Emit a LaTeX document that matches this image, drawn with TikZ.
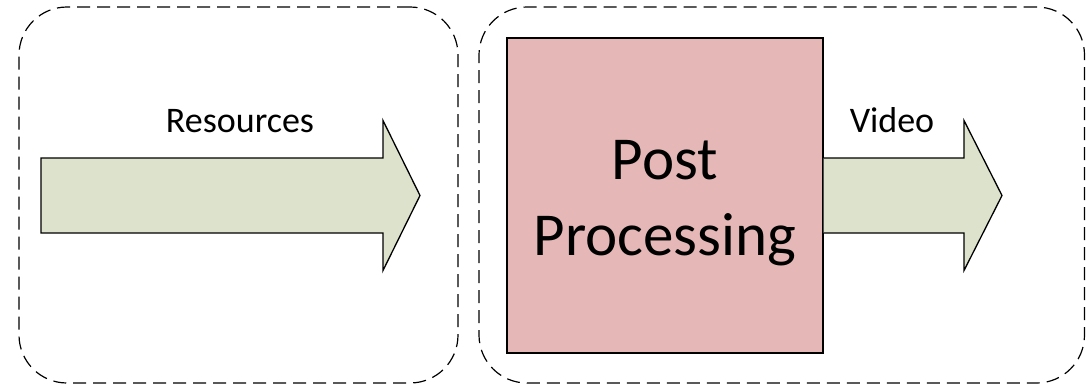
\documentclass[tikz,border=0pt]{standalone}
\usepackage{fontspec}
\setmainfont{Carlito}
\usetikzlibrary{positioning, calc}

\definecolor{flowgreen}{RGB}{221,226,204}
\definecolor{procpink}{RGB}{229,184,183}

\begin{document}
\begin{tikzpicture}[x=1pt, y=-1pt,
    stage/.style={draw, line width=1.2pt, dash pattern=on 13pt off 7pt,
        rounded corners=48pt, inner sep=0pt},
    process/.style={draw, line width=1.3pt, fill=procpink, inner sep=0pt,
        minimum width=316pt, minimum height=315pt},
    proclabel/.style={align=center, inner sep=0pt, font=\fontsize{61}{76}\selectfont},
    flow/.style={draw, line width=1.3pt, fill=flowgreen, line join=miter},
    flowlabel/.style={anchor=base, font=\fontsize{36}{43}\selectfont}]
    \useasboundingbox (0,0) rectangle (1086,384);

    % Stages
    \node[stage, minimum width=439pt, minimum height=376pt] (input) at (238.5,195) {};
    \node[stage, minimum width=605.5pt, minimum height=376pt] (output) at (781.75,195) {};

    % Post processing block
    \node[process] (proc) at (665,195.5) {};
    \node[proclabel] (proctext) at ($(proc.center)+(0,8)$) {Post\\Processing};

    % Resources arrow
    \coordinate (rtail) at (41,195.5);
    \coordinate (rtip) at (420,195.5);
    \draw[flow] ($(rtail)+(0,-37.5)$) -- ($(rtip)+(-37,-37.5)$) -- ($(rtip)+(-37,-75)$)
        -- (rtip) -- ($(rtip)+(-37,75)$) -- ($(rtip)+(-37,37.5)$)
        -- ($(rtail)+(0,37.5)$) -- cycle;
    \node[flowlabel] (reslabel) at (240,132) {Resources};

    % Video arrow
    \coordinate (vtip) at (1002,195.5);
    \draw[flow] ($(proc.east)+(0,-37.5)$) -- ($(vtip)+(-38,-37.5)$) -- ($(vtip)+(-38,-75)$)
        -- (vtip) -- ($(vtip)+(-38,75)$) -- ($(vtip)+(-38,37.5)$)
        -- ($(proc.east)+(0,37.5)$);
    \node[flowlabel] (vidlabel) at (892,132) {Video};
\end{tikzpicture}
\end{document}
